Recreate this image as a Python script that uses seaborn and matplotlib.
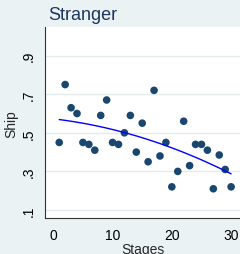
import matplotlib
matplotlib.use("Agg")
import matplotlib.pyplot as plt
import seaborn as sns
import pandas as pd

# data
stages = list(range(1, 31))
ship = [0.45, 0.75, 0.63, 0.60, 0.45, 0.44, 0.41, 0.59, 0.67, 0.45,
        0.44, 0.50, 0.59, 0.40, 0.55, 0.35, 0.72, 0.38, 0.45, 0.22,
        0.30, 0.56, 0.33, 0.44, 0.44, 0.41, 0.21, 0.385, 0.31, 0.22]
xticks = [0, 10, 20, 30]
yticks = [0.1, 0.3, 0.5, 0.7, 0.9]
ytick_labels = [".1", ".3", ".5", ".7", ".9"]

df = pd.DataFrame({"Stages": stages, "Ship": ship})

BG = "#EAF2F3"
NAVY = "#1A476F"

sns.set_style("white")
plt.rcParams["font.family"] = ["Liberation Sans", "DejaVu Sans"]

fig = plt.figure(figsize=(2.4, 2.55), dpi=100, facecolor=BG)
ax = fig.add_axes([0.1875, 0.140, 0.8125, 0.750])
ax.set_facecolor("white")

sns.scatterplot(data=df, x="Stages", y="Ship", ax=ax, color=NAVY,
                s=30, edgecolor="none", zorder=3)
sns.regplot(data=df, x="Stages", y="Ship", ax=ax, order=2, ci=None,
            scatter=False, line_kws={"color": "#0000FF", "lw": 1.0, "zorder": 4})

ax.set_xlim(-1.4, 31.5)
ax.set_ylim(0.057, 1.048)
ax.set_xticks(xticks)
ax.set_yticks(yticks)
ax.set_yticklabels(ytick_labels, rotation=90, va="center")
ax.tick_params(axis="both", direction="out", length=5, width=0.8,
               color="#333333", labelsize=10, pad=2, labelcolor="black")
ax.yaxis.grid(True, color="#E4ECEE", lw=1.0)
ax.set_axisbelow(True)

for p in ["top", "right"]:
    ax.spines[p].set_visible(False)
for p in ["left", "bottom"]:
    ax.spines[p].set_color("#333333")
    ax.spines[p].set_linewidth(0.8)

ax.set_xlabel("Stages", fontsize=10, labelpad=0)
ax.set_ylabel("Ship", fontsize=10, labelpad=2)

fig.text(0.20, 0.94, "Stranger", fontsize=13, color="#1E3560",
         ha="left", va="center")

plt.savefig("out.png", dpi=100, facecolor=BG)
